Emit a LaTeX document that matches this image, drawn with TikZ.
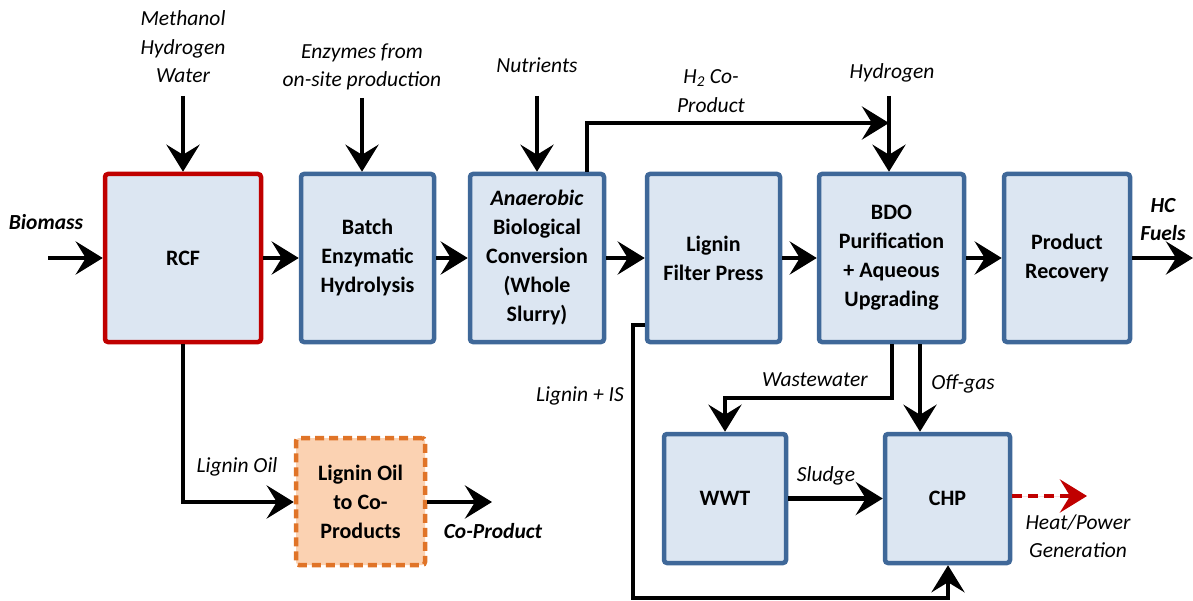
\documentclass[tikz,border=0pt]{standalone}
\usepackage{fontspec}
\setmainfont{Carlito}
\usetikzlibrary{arrows.meta}
\definecolor{boxfill}{HTML}{DCE6F2}
\definecolor{boxline}{HTML}{3F6899}
\definecolor{rcfred}{HTML}{C00000}
\definecolor{orfill}{HTML}{FBD2B2}
\definecolor{orline}{HTML}{E07428}
\tikzset{
  box/.style={draw=boxline, fill=boxfill, line width=4.5pt, rounded corners=3pt,
    align=center, font=\fontsize{22}{29}\selectfont\bfseries, inner sep=0pt},
  lbl/.style={align=center, font=\fontsize{21.5}{28.5}\selectfont\itshape, inner sep=0pt},
  blbl/.style={align=center, font=\fontsize{21.5}{28}\selectfont\bfseries\itshape, inner sep=0pt},
  tip/.style={-{Stealth[length=27pt 0 0,width=33pt 0 0,inset=10pt]}},
  arr/.style={line width=4.5pt, tip},
  ln/.style={line width=4.5pt}
}
\begin{document}
\begin{tikzpicture}[x=1pt,y=-1pt]
\useasboundingbox (0,0) rectangle (1193,601);
% boxes
\node[box, draw=rcfred, minimum width=156pt, minimum height=168pt] (rcf) at (183,258) {RCF};
\node[box, minimum width=133pt, minimum height=168pt] (batch) at (367.5,258) {Batch\\Enzymatic\\Hydrolysis};
\node[box, minimum width=134pt, minimum height=168pt] (abc) at (537,258) {{\itshape Anaerobic}\\Biological\\Conversion\\(Whole\\Slurry)};
\node[box, minimum width=133pt, minimum height=168pt] (lfp) at (713.5,258) {Lignin\\Filter Press};
\node[box, minimum width=145pt, minimum height=168pt] (bdo) at (891.5,258) {BDO\\Purification\\+ Aqueous\\Upgrading};
\node[box, minimum width=126pt, minimum height=168pt] (pr) at (1067,258) {Product\\Recovery};
\node[box, minimum width=122pt, minimum height=129pt] (wwt) at (725,498.5) {WWT};
\node[box, minimum width=125pt, minimum height=129pt] (chp) at (947.5,498.5) {CHP};
\node[box, draw=orline, fill=orfill, dashed, dash pattern=on 9pt off 5pt, minimum width=129pt, minimum height=127pt] (lo) at (360.5,501.5) {Lignin Oil\\to Co-\\Products};
% labels
\node[lbl] (tMeth) at (183,47) {Methanol\\Hydrogen\\Water};
\node[lbl] (tEnz) at (362,67) {Enzymes from\\on-site production};
\node[lbl] (tNut) at (537,65) {Nutrients};
\node[lbl] (tH2) at (711,91) {H\textsubscript{2} Co-\\Product};
\node[lbl] (tHyd) at (892,73) {Hydrogen};
\node[blbl] (tBio) at (46,222) {Biomass};
\node[blbl] (tHC) at (1163,220) {HC\\Fuels};
\node[lbl] (tLO) at (237,467) {Lignin Oil};
\node[blbl] (tCo) at (493,531) {Co-Product};
\node[lbl] (tLIS) at (580,396) {Lignin + IS};
\node[lbl] (tWW) at (815,380) {Wastewater};
\node[lbl] (tOff) at (963,384) {Off-gas};
\node[lbl] (tSl) at (826,476) {Sludge};
\node[lbl] (tHP) at (1078,536) {Heat/Power\\Generation};
% free-end coordinates
\coordinate (cBio) at (48,258);
\coordinate (cHC) at (1193,258);
\coordinate (cMeth) at (183,96);
\coordinate (cEnz) at (362,98);
\coordinate (cNut) at (537,96);
\coordinate (cHyd) at (889,96);
\coordinate (cH2a) at (587,123);
\coordinate (cH2b) at (889,123);
\coordinate (cLa) at (633,325);
\coordinate (cLb) at (633,598);
\coordinate (cLc) at (948,598);
\coordinate (cWa) at (892,398);
\coordinate (cWb) at (725,398);
\coordinate (cOff) at (920,343);
\coordinate (cRa) at (183,502);
\coordinate (cCo) at (492,502);
\coordinate (cHeat) at (1087,496);
% main line
\draw[arr] (cBio) -- (rcf.west);
\draw[arr] (rcf.east) -- (batch.west);
\draw[arr] (batch.east) -- (abc.west);
\draw[arr] (abc.east) -- (lfp.west);
\draw[arr] (lfp.east) -- (bdo.west);
\draw[arr] (bdo.east) -- (pr.west);
\draw[arr] (pr.east) -- (cHC);
% top inputs
\draw[arr] (cMeth) -- (rcf.north);
\draw[arr] (cEnz) -- (cEnz |- batch.north);
\draw[arr] (cNut) -- (abc.north);
\draw[arr] (cHyd) -- (cHyd |- bdo.north);
\draw[arr] (cH2a |- abc.north) -- (cH2a) -- (cH2b);
% lignin + IS
\draw[arr] (lfp.west |- cLa) -- (cLa) -- (cLb) -- (cLc) -- (cLc |- chp.south);
% BDO outputs
\draw[arr] (cWa |- bdo.south) -- (cWa) -- (cWb) -- (wwt.north);
\draw[arr] (cOff |- bdo.south) -- (cOff |- chp.north);
\draw[arr] (wwt.east) -- (chp.west);
\draw[line width=4.5pt, draw=rcfred, fill=rcfred, dash pattern=on 10pt off 6pt, tip] (chp.east |- cHeat) -- (cHeat);
% lignin oil
\draw[arr] (rcf.south) -- (cRa) -- (lo.west |- cRa);
\draw[arr] (lo.east |- cCo) -- (cCo);
\end{tikzpicture}
\end{document}
